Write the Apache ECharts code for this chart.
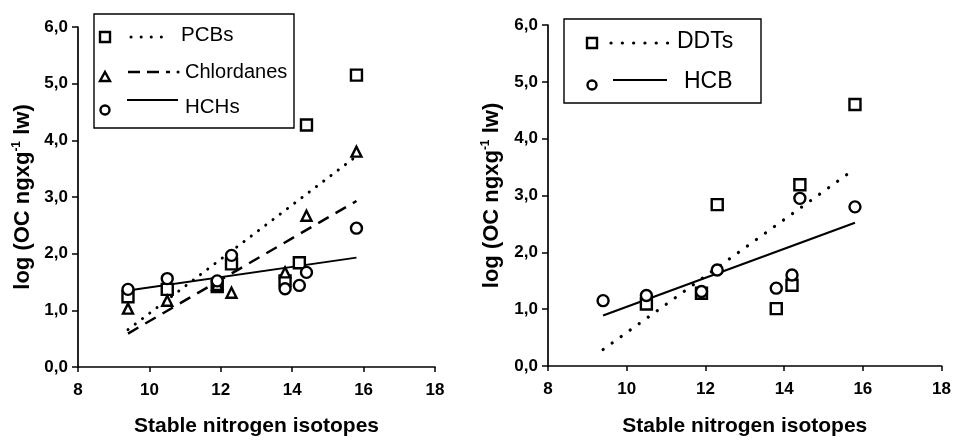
<!DOCTYPE html>
<html><head><meta charset="utf-8">
<script src="https://cdn.jsdelivr.net/npm/echarts@6/dist/echarts.min.js"></script>
<style>html,body{margin:0;padding:0;background:#fff}#c{width:954px;height:442px}</style>
</head><body><div id="c"></div>
<script>
// ---- data ----
const isotopes = [9.4, 10.5, 11.9, 12.3, 13.8, 14.2, 14.4, 15.8];
const PCBs       = [1.24, 1.37, 1.42, 1.82, 1.52, 1.84, 4.27, 5.15];
const Chlordanes = [1.03, 1.17, 1.45, 1.31, 1.67, null, 2.67, 3.80];
const HCHs       = [1.37, 1.56, 1.52, 1.97, 1.38, 1.44, 1.67, 2.45];
const DDTs       = [null, 1.09, 1.28, 2.84, 1.01, 1.42, 3.19, 4.60];
const HCB        = [1.15, 1.24, 1.31, 1.69, 1.37, 1.60, 2.95, 2.80];
// regression line end points [x, y]
const pcbLine = [[9.4, 0.66], [15.8, 3.72]];
const chlLine = [[9.4, 0.59], [15.8, 2.93]];
const hchLine = [[9.4, 1.35], [15.8, 1.93]];
const ddtLine = [[9.4, 0.29], [15.8, 3.47]];
const hcbLine = [[9.4, 0.89], [15.8, 2.52]];
const xTicks = {min: 8, max: 18, interval: 2};
const yTicks = {min: 0, max: 6, interval: 1};
const xTitle = 'Stable nitrogen isotopes';

const FONT = 'Liberation Sans, Arial, sans-serif';
const pts = (ys) => isotopes.map((x, i) => [x, ys[i]]).filter(p => p[1] !== null);

function xAx(gi, margin, gap) {
  return {
    gridIndex: gi, type: 'value', min: xTicks.min, max: xTicks.max, interval: xTicks.interval,
    name: xTitle, nameLocation: 'middle', nameGap: gap,
    nameTextStyle: {fontFamily: FONT, fontWeight: 'bold', fontSize: 21, color: '#000'},
    axisLine: {show: true, lineStyle: {color: '#000', width: 1.7}},
    axisTick: {show: true, inside: false, length: 5, lineStyle: {color: '#000', width: 1.5}},
    axisLabel: {margin: margin, fontFamily: FONT, fontWeight: 'bold', fontSize: 17, color: '#000'},
    splitLine: {show: false}
  };
}
function yAx(gi, gap) {
  return {
    gridIndex: gi, type: 'value', min: yTicks.min, max: yTicks.max, interval: yTicks.interval,
    name: 'log (OC ngxg{sup|-1} lw)', nameLocation: 'middle', nameGap: gap, nameRotate: 90,
    nameTextStyle: {fontFamily: FONT, fontWeight: 'bold', fontSize: 22, color: '#000',
      rich: {sup: {fontFamily: FONT, fontWeight: 'bold', fontSize: 12, color: '#000', verticalAlign: 'top', padding: [0, 0, 11, 0]}}},
    axisLine: {show: true, lineStyle: {color: '#000', width: 1.7}},
    axisTick: {show: true, inside: false, length: 6, lineStyle: {color: '#000', width: 1.5}},
    axisLabel: {margin: 10, fontFamily: FONT, fontWeight: 'bold', fontSize: 17, color: '#000',
      formatter: v => v.toFixed(1).replace('.', ',')},
    splitLine: {show: false}
  };
}
const sym = (name, data, symbol, size, gi) => ({
  name, type: 'scatter', xAxisIndex: gi, yAxisIndex: gi, data, symbol, symbolSize: size,
  itemStyle: {color: '#fff', borderColor: '#000', borderWidth: 2.4, opacity: 1}, z: 5
});
const ln = (name, data, type, width, gi, cap) => ({
  name, type: 'line', xAxisIndex: gi, yAxisIndex: gi, data, symbol: 'none',
  lineStyle: {color: '#000', width: width, type: type, cap: cap || 'butt'}, z: 3
});

// legend helpers (drawn decorations)
const g = [];
function box(l, t, r, b) { g.push({type: 'rect', shape: {x: l, y: t, width: r - l, height: b - t}, style: {fill: '#fff', stroke: '#000', lineWidth: 1.4}, z: 10}); }
function lsq(x, y) { g.push({type: 'rect', shape: {x: x - 5, y: y - 5, width: 10, height: 10}, style: {fill: '#fff', stroke: '#000', lineWidth: 2.4}, z: 11}); }
function ltri(x, y) { g.push({type: 'polygon', shape: {points: [[x, y - 5], [x + 5, y + 4], [x - 5, y + 4]]}, style: {fill: '#fff', stroke: '#000', lineWidth: 2.4}, z: 11}); }
function lcir(x, y) { g.push({type: 'circle', shape: {cx: x, cy: y, r: 4.5}, style: {fill: '#fff', stroke: '#000', lineWidth: 2.4}, z: 11}); }
function lline(x1, x2, y, dash, w, cap) { g.push({type: 'line', shape: {x1, y1: y, x2, y2: y}, style: {stroke: '#000', lineWidth: w, lineDash: dash, lineCap: cap || 'butt'}, z: 11}); }
function ltext(x, y, t, fs) { g.push({type: 'text', x, y, style: {text: t, fontFamily: FONT, fontSize: fs, fill: '#000', textVerticalAlign: 'middle'}, z: 11}); }

// left legend
box(94, 14, 294, 128);
lsq(105, 37); lline(131, 168, 37, [0.1, 10], 3, 'round'); ltext(181, 35, 'PCBs', 20.5);
ltri(105, 77); lline(128, 170, 72, [12, 7], 2.5); lline(178, 179, 72, [0.1, 5], 3, 'round'); ltext(185, 72, 'Chlordanes', 20);
lcir(105, 110); lline(127, 178, 100, null, 2); ltext(185, 107, 'HCHs', 20.5);
// right legend
box(564, 19, 761, 103);
lsq(592, 43); lline(611, 668, 43, [0.1, 11.2], 3.2, 'round'); ltext(677, 42, 'DDTs', 23);
lcir(592, 85); lline(613, 667, 80, null, 2.2); ltext(684, 82, 'HCB', 23);

const option = {
  animation: false,
  backgroundColor: '#fff',
  grid: [
    {left: 78, top: 27, width: 357, height: 341},
    {left: 548, top: 25, width: 396, height: 348}
  ],
  xAxis: [xAx(0, 15, 49), xAx(1, 15, 50)],
  yAxis: [yAx(0, 44), yAx(1, 45)],
  series: [
    ln('PCBs line', pcbLine, [0.1, 9], 3, 0, 'round'),
    ln('Chlordanes line', chlLine, [12, 8], 2.5, 0),
    ln('HCHs line', hchLine, 'solid', 2, 0),
    sym('PCBs', pts(PCBs), 'rect', 11, 0),
    sym('Chlordanes', pts(Chlordanes), 'triangle', 10, 0),
    sym('HCHs', pts(HCHs), 'circle', 11, 0),
    ln('DDTs line', ddtLine, [0.1, 11], 3.2, 1, 'round'),
    ln('HCB line', hcbLine, 'solid', 2.2, 1),
    sym('DDTs', pts(DDTs), 'rect', 11, 1),
    sym('HCB', pts(HCB), 'circle', 11, 1)
  ],
  graphic: g
};
const chart = echarts.init(document.getElementById('c'), null, {renderer: 'canvas'});
chart.setOption(option);
</script></body></html>
